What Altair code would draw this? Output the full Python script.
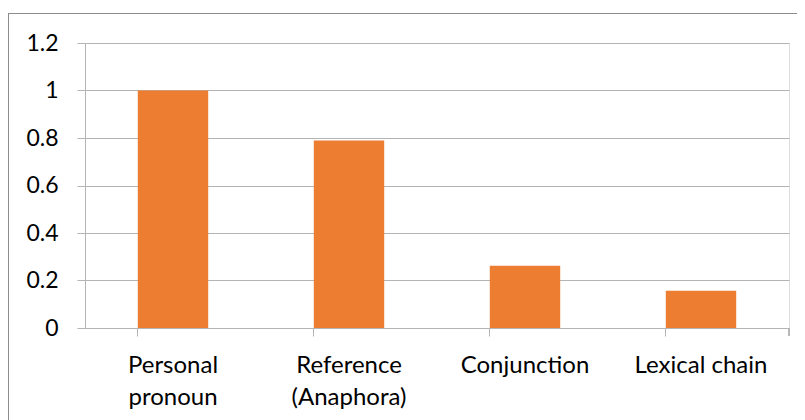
import altair as alt
import pandas as pd

categories = ["Personal pronoun", "Reference (Anaphora)", "Conjunction", "Lexical chain"]
values = [1.0, 0.789, 0.262, 0.157]

df = pd.DataFrame({"category": categories, "value": values})

W, H = 704, 285
GRAY = "#b4b4b4"
FONT = "Lato"

xscale = alt.Scale(domain=categories, paddingInner=0.6, paddingOuter=0.3)

bars = alt.Chart(df).mark_bar(color="#ED7D31").encode(
    x=alt.X("category:N", scale=xscale, sort=categories, title=None,
            axis=alt.Axis(labelAngle=0, domainColor=GRAY, tickColor=GRAY, tickSize=8,
                          bandPosition=0, labelFont=FONT, labelFontSize=24,
                          labelColor="#000000", labelPadding=17, labelLineHeight=32,
                          labelBaseline="top",
                          labelExpr="datum.label == 'Lexical chain' ? datum.label : split(datum.label, ' ')")),
    y=alt.Y("value:Q", scale=alt.Scale(domain=[0, 1.2]), title=None,
            axis=alt.Axis(values=[0, 0.2, 0.4, 0.6, 0.8, 1.0, 1.2], domainColor=GRAY,
                          tickColor=GRAY, tickSize=8, gridColor=GRAY, labelFont=FONT,
                          labelFontSize=23, labelColor="#000000", labelPadding=19,
                          labelExpr="datum.value == 0 ? '0' : format(datum.value, '.1~f')")),
)

end_tick = alt.Chart(df).mark_rule(color=GRAY).encode(
    x=alt.value(W), y=alt.value(H), y2=alt.value(H + 8)
)

border = alt.Chart(df).mark_rect(fill=None, stroke="#8c8c8c", strokeWidth=1).encode(
    x=alt.value(-76.5), x2=alt.value(W + 200), y=alt.value(-29.5), y2=alt.value(H + 300)
)

chart = alt.layer(border, bars, end_tick).properties(
    width=W, height=H,
    autosize=alt.AutoSizeParams(type="none"),
    padding={"left": 77, "top": 35, "right": 8, "bottom": 92},
).configure_view(stroke=None).configure(background="white")

chart.save("out.html", embed_options={"renderer": "svg", "actions": False})
